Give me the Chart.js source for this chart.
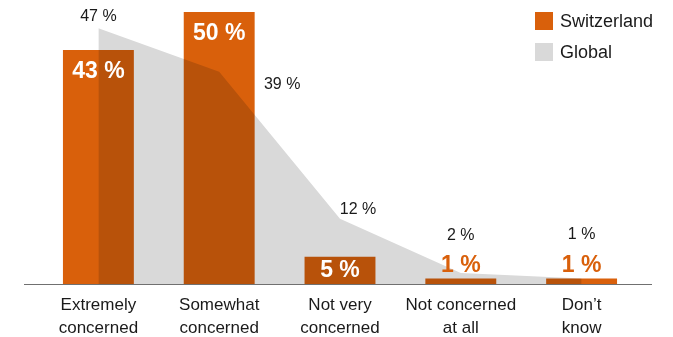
<!DOCTYPE html>
<html>
<head>
<meta charset="utf-8">
<script src="https://cdn.jsdelivr.net/npm/chart.js@4/dist/chart.umd.min.js"></script>
<style>
  html, body { margin: 0; padding: 0; background: #fff; }
</style>
</head>
<body>
<canvas id="concern-chart" width="673" height="337"></canvas>
<script>
const categories = [
  ["Extremely", "concerned"],
  ["Somewhat", "concerned"],
  ["Not very", "concerned"],
  ["Not concerned", "at all"],
  ["Don’t", "know"],
];
const switzerland = [43, 50, 5, 1, 1];
const globalValues = [47, 39, 12, 2, 1];
const seriesNames = ["Switzerland", "Global"];

const ORANGE = "#d9600b";
const GREY = "#d9d9d9";
const TEXT = "#1a1a1a";
const FONT = '"Liberation Sans", Arial, sans-serif';

// where the global value labels sit relative to their point
const globalLabelOffsets = [
  [0, -12],
  [63, 13],
  [18, -9],
  [0, -38],
  [0, -44],
];

// bars are multiplied onto the grey area so the overlap goes darker
const blendPlugin = {
  id: "blendBars",
  beforeDatasetDraw(chart, args) {
    if (args.index === 0) {
      chart.ctx.save();
      chart.ctx.globalCompositeOperation = "multiply";
    }
  },
  afterDatasetDraw(chart, args) {
    if (args.index === 0) {
      chart.ctx.restore();
    }
  },
};

const baselinePlugin = {
  id: "baseline",
  afterDatasetsDraw(chart) {
    const { ctx, chartArea } = chart;
    const y = Math.round(chartArea.bottom) + 0.5;
    ctx.save();
    ctx.strokeStyle = "#707070";
    ctx.lineWidth = 1;
    ctx.beginPath();
    ctx.moveTo(chartArea.left - 14, y);
    ctx.lineTo(chartArea.right + 10, y);
    ctx.stroke();
    ctx.restore();
  },
};

const labelPlugin = {
  id: "valueLabels",
  afterDatasetsDraw(chart) {
    const { ctx } = chart;
    const bars = chart.getDatasetMeta(0).data;
    const points = chart.getDatasetMeta(1).data;
    ctx.save();
    ctx.textAlign = "center";
    ctx.textBaseline = "middle";

    bars.forEach((bar, i) => {
      const value = switzerland[i];
      let y = bar.y + 22;
      ctx.fillStyle = "#fff";
      if (value < 4) {
        y = bar.y - 13;
        ctx.fillStyle = ORANGE;
      } else if (value < 10) {
        y = (bar.y + bar.base) / 2;
      }
      ctx.font = `bold 23px ${FONT}`;
      ctx.fillText(`${value} %`, bar.x, y);
    });

    ctx.font = `16px ${FONT}`;
    ctx.fillStyle = TEXT;
    points.forEach((point, i) => {
      const [dx, dy] = globalLabelOffsets[i];
      ctx.fillText(`${globalValues[i]} %`, point.x + dx, point.y + dy);
    });
    ctx.restore();
  },
};

const legendPlugin = {
  id: "cornerLegend",
  afterDraw(chart) {
    const { ctx } = chart;
    const colors = [ORANGE, GREY];
    ctx.save();
    ctx.font = `18px ${FONT}`;
    ctx.textBaseline = "middle";
    ctx.textAlign = "left";
    seriesNames.forEach((name, i) => {
      const top = 12 + i * 31;
      ctx.fillStyle = colors[i];
      ctx.fillRect(535, top, 18, 18);
      ctx.fillStyle = TEXT;
      ctx.fillText(name, 560, top + 10);
    });
    ctx.restore();
  },
};

const ctx = document.getElementById("concern-chart");
const chart = new Chart(ctx, {
  type: "bar",
  data: {
    labels: categories,
    datasets: [
      {
        label: seriesNames[0],
        data: switzerland,
        backgroundColor: ORANGE,
        borderWidth: 0,
        categoryPercentage: 1,
        barPercentage: 0.587,
        order: 0,
      },
      {
        type: "line",
        label: seriesNames[1],
        data: globalValues,
        backgroundColor: GREY,
        borderWidth: 0,
        pointRadius: 0,
        tension: 0,
        fill: "origin",
        order: 1,
      },
    ],
  },
  options: {
    responsive: false,
    animation: false,
    layout: {
      padding: { left: 38, right: 31, top: 12, bottom: 0 },
    },
    plugins: {
      legend: { display: false },
      tooltip: { enabled: false },
    },
    scales: {
      y: {
        display: false,
        min: 0,
        max: 50,
      },
      x: {
        grid: { display: false, drawTicks: false },
        border: { display: false },
        ticks: {
          padding: 10,
          color: TEXT,
          maxRotation: 0,
          autoSkip: false,
          font: { family: FONT, size: 17, lineHeight: 1.35 },
        },
        afterFit: (scale) => {
          scale.height = 53;
        },
      },
    },
  },
  plugins: [blendPlugin, baselinePlugin, labelPlugin, legendPlugin],
});
</script>
</body>
</html>
